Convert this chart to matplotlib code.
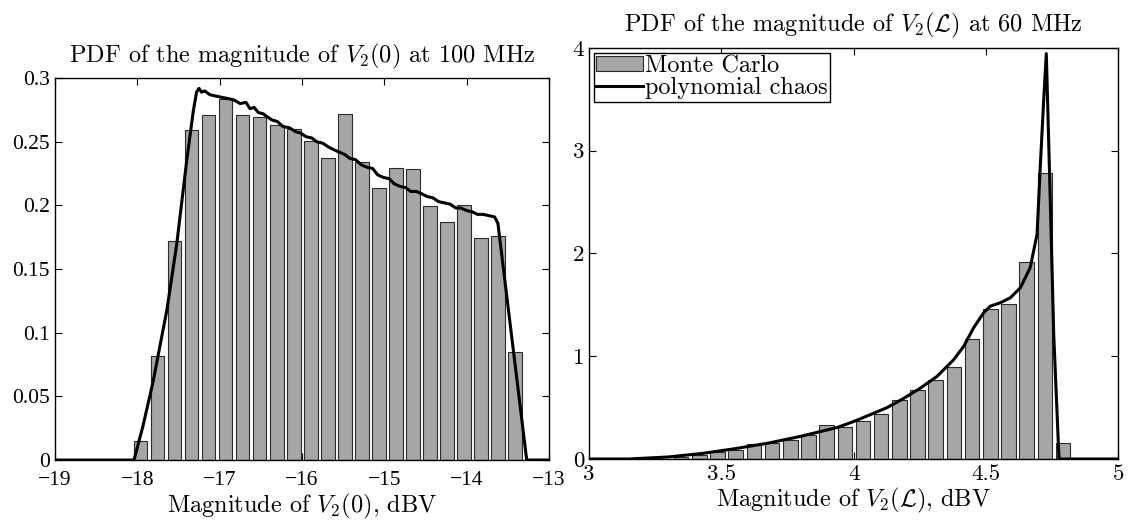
import numpy as np
import matplotlib
matplotlib.use("Agg")
import matplotlib.pyplot as plt

plt.rcParams['mathtext.fontset'] = 'cm'
plt.rcParams['font.family'] = ['cmr10', 'DejaVu Serif']
plt.rcParams['axes.unicode_minus'] = True

# left panel: |V2(0)| at 100 MHz
mc_left_centres = np.linspace(-17.96, -13.413, 23)
mc_left_pdf = [0.0148, 0.0817, 0.172, 0.259, 0.2709, 0.2836, 0.2709, 0.2698,
               0.2633, 0.2602, 0.2505, 0.2373, 0.2719, 0.2339, 0.2139, 0.2297,
               0.2287, 0.1993, 0.1871, 0.2001, 0.1741, 0.1759, 0.0846]
pc_left_x = [-19.0, -18.04, -17.93, -17.81, -17.64, -17.52, -17.40, -17.32, -17.28,
             -17.25, -17.22, -17.18, -17.12, -17.05, -16.98, -16.90, -16.83, -16.75,
             -16.68, -16.63, -16.58, -16.53, -16.47, -16.43, -16.36, -16.30, -16.23,
             -16.15, -16.08, -16.02, -15.95, -15.88, -15.82, -15.75, -15.68, -15.62,
             -15.55, -15.48, -15.42, -15.35, -15.28, -15.21, -15.14, -15.08, -15.01,
             -14.94, -14.88, -14.81, -14.74, -14.68, -14.61, -14.54, -14.48, -14.41,
             -14.34, -14.27, -14.20, -14.13, -14.07, -14.00, -13.93, -13.87, -13.80,
             -13.73, -13.66, -13.62, -13.27, -13.0]
pc_left_pdf = [0, 0, 0.027, 0.061, 0.118, 0.170, 0.235, 0.274, 0.289,
               0.292, 0.289, 0.290, 0.287, 0.286, 0.285, 0.284, 0.283, 0.280,
               0.281, 0.276, 0.277, 0.273, 0.272, 0.270, 0.267, 0.266, 0.262,
               0.261, 0.258, 0.257, 0.254, 0.253, 0.250, 0.249, 0.246, 0.244,
               0.242, 0.240, 0.237, 0.236, 0.232, 0.230, 0.229, 0.224, 0.222,
               0.221, 0.217, 0.215, 0.214, 0.211, 0.211, 0.209, 0.207, 0.206,
               0.203, 0.202, 0.201, 0.198, 0.198, 0.196, 0.195, 0.193, 0.193,
               0.192, 0.191, 0.186, 0, 0]

# right panel: |V2(L)| at 60 MHz
mc_right_centres = np.linspace(3.348, 4.791, 22)
mc_right_pdf = [0.016, 0.04, 0.07, 0.09, 0.146, 0.153, 0.186, 0.23, 0.333, 0.309,
                0.371, 0.439, 0.576, 0.667, 0.765, 0.895, 1.172, 1.458, 1.504,
                1.917, 2.78, 0.153]
pc_right_x = [3.0, 3.15, 3.30, 3.43, 3.55, 3.68, 3.80, 3.874, 3.937, 4.0, 4.063,
              4.126, 4.189, 4.252, 4.315, 4.378, 4.416, 4.453, 4.491, 4.516, 4.554,
              4.592, 4.63, 4.667, 4.693, 4.705, 4.718, 4.728, 4.743, 4.756, 4.776, 5.0]
pc_right_pdf = [0, 0, 0.02, 0.055, 0.10, 0.156, 0.221, 0.267, 0.306, 0.365, 0.432,
                0.50, 0.59, 0.69, 0.804, 0.967, 1.097, 1.276, 1.422, 1.487, 1.520,
                1.569, 1.666, 1.862, 2.187, 2.838, 3.489, 3.945, 2.513, 1.211, 0, 0]

bar_face = '#a6a6a6'
bar_edge = '#2b2b2b'
txt_size = 17.5

fig = plt.figure(figsize=(11.33, 5.21), dpi=100)
ax1 = fig.add_axes([0.0485, 0.117, 0.436, 0.733])
ax2 = fig.add_axes([0.520, 0.119, 0.467, 0.789])

ax1.bar(mc_left_centres, mc_left_pdf, width=0.8 * 0.2067, color=bar_face,
        edgecolor=bar_edge, linewidth=0.8, zorder=2)
ax1.plot(pc_left_x, pc_left_pdf, color='k', lw=2.2, zorder=3)
ax1.set_xlim(-19, -13)
ax1.set_ylim(0, 0.3)
ax1.set_xticks([-19, -18, -17, -16, -15, -14, -13])
ax1.set_yticks([0, 0.05, 0.1, 0.15, 0.2, 0.25, 0.3])
ax1.set_xticklabels(['\u221219', '\u221218', '\u221217', '\u221216', '\u221215', '\u221214', '\u221213'])
ax1.set_yticklabels(['0', '0.05', '0.1', '0.15', '0.2', '0.25', '0.3'])
for lab in ax1.get_xticklabels() + ax1.get_yticklabels():
    lab.set_family('Liberation Serif')
    lab.set_fontsize(15.5)
ax1.set_title(r'PDF of the magnitude of $V_2(0)$ at 100 MHz', fontsize=txt_size, pad=11)
ax1.set_xlabel(r'Magnitude of $V_2(0)$, dBV', fontsize=txt_size, labelpad=1)

h_bar = ax2.bar(mc_right_centres, mc_right_pdf, width=0.8 * 0.0687, color=bar_face,
                edgecolor=bar_edge, linewidth=0.8, zorder=2)
h_line, = ax2.plot(pc_right_x, pc_right_pdf, color='k', lw=2.2, zorder=3)
ax2.set_xlim(3, 5)
ax2.set_ylim(0, 4)
ax2.set_xticks([3, 3.5, 4, 4.5, 5])
ax2.set_yticks([0, 1, 2, 3, 4])
ax2.set_xticklabels(['3', '3.5', '4', '4.5', '5'])
ax2.set_yticklabels(['0', '1', '2', '3', '4'])
for lab in ax2.get_xticklabels() + ax2.get_yticklabels():
    lab.set_fontsize(16.5)
ax2.set_title(r'PDF of the magnitude of $V_2(\mathcal{L})$ at 60 MHz', fontsize=txt_size, pad=12)
ax2.set_xlabel(r'Magnitude of $V_2(\mathcal{L})$, dBV', fontsize=txt_size, labelpad=1)
leg = ax2.legend([h_bar, h_line], ['Monte Carlo', 'polynomial chaos'], loc='upper left',
                 fontsize=txt_size, frameon=True, fancybox=False, edgecolor='k',
                 framealpha=1, borderpad=0.1, labelspacing=0.0, handlelength=1.9,
                 handleheight=0.6, handletextpad=0.1, borderaxespad=0.2)
leg.get_frame().set_linewidth(1.0)

ax1.tick_params(axis='x', pad=8)
ax2.tick_params(axis='x', pad=4)
for ax in (ax1, ax2):
    ax.tick_params(direction='in', top=True, right=True, length=5, width=0.8)
    for s in ax.spines.values():
        s.set_linewidth(1.0)

fig.savefig('out.png', dpi=100)
